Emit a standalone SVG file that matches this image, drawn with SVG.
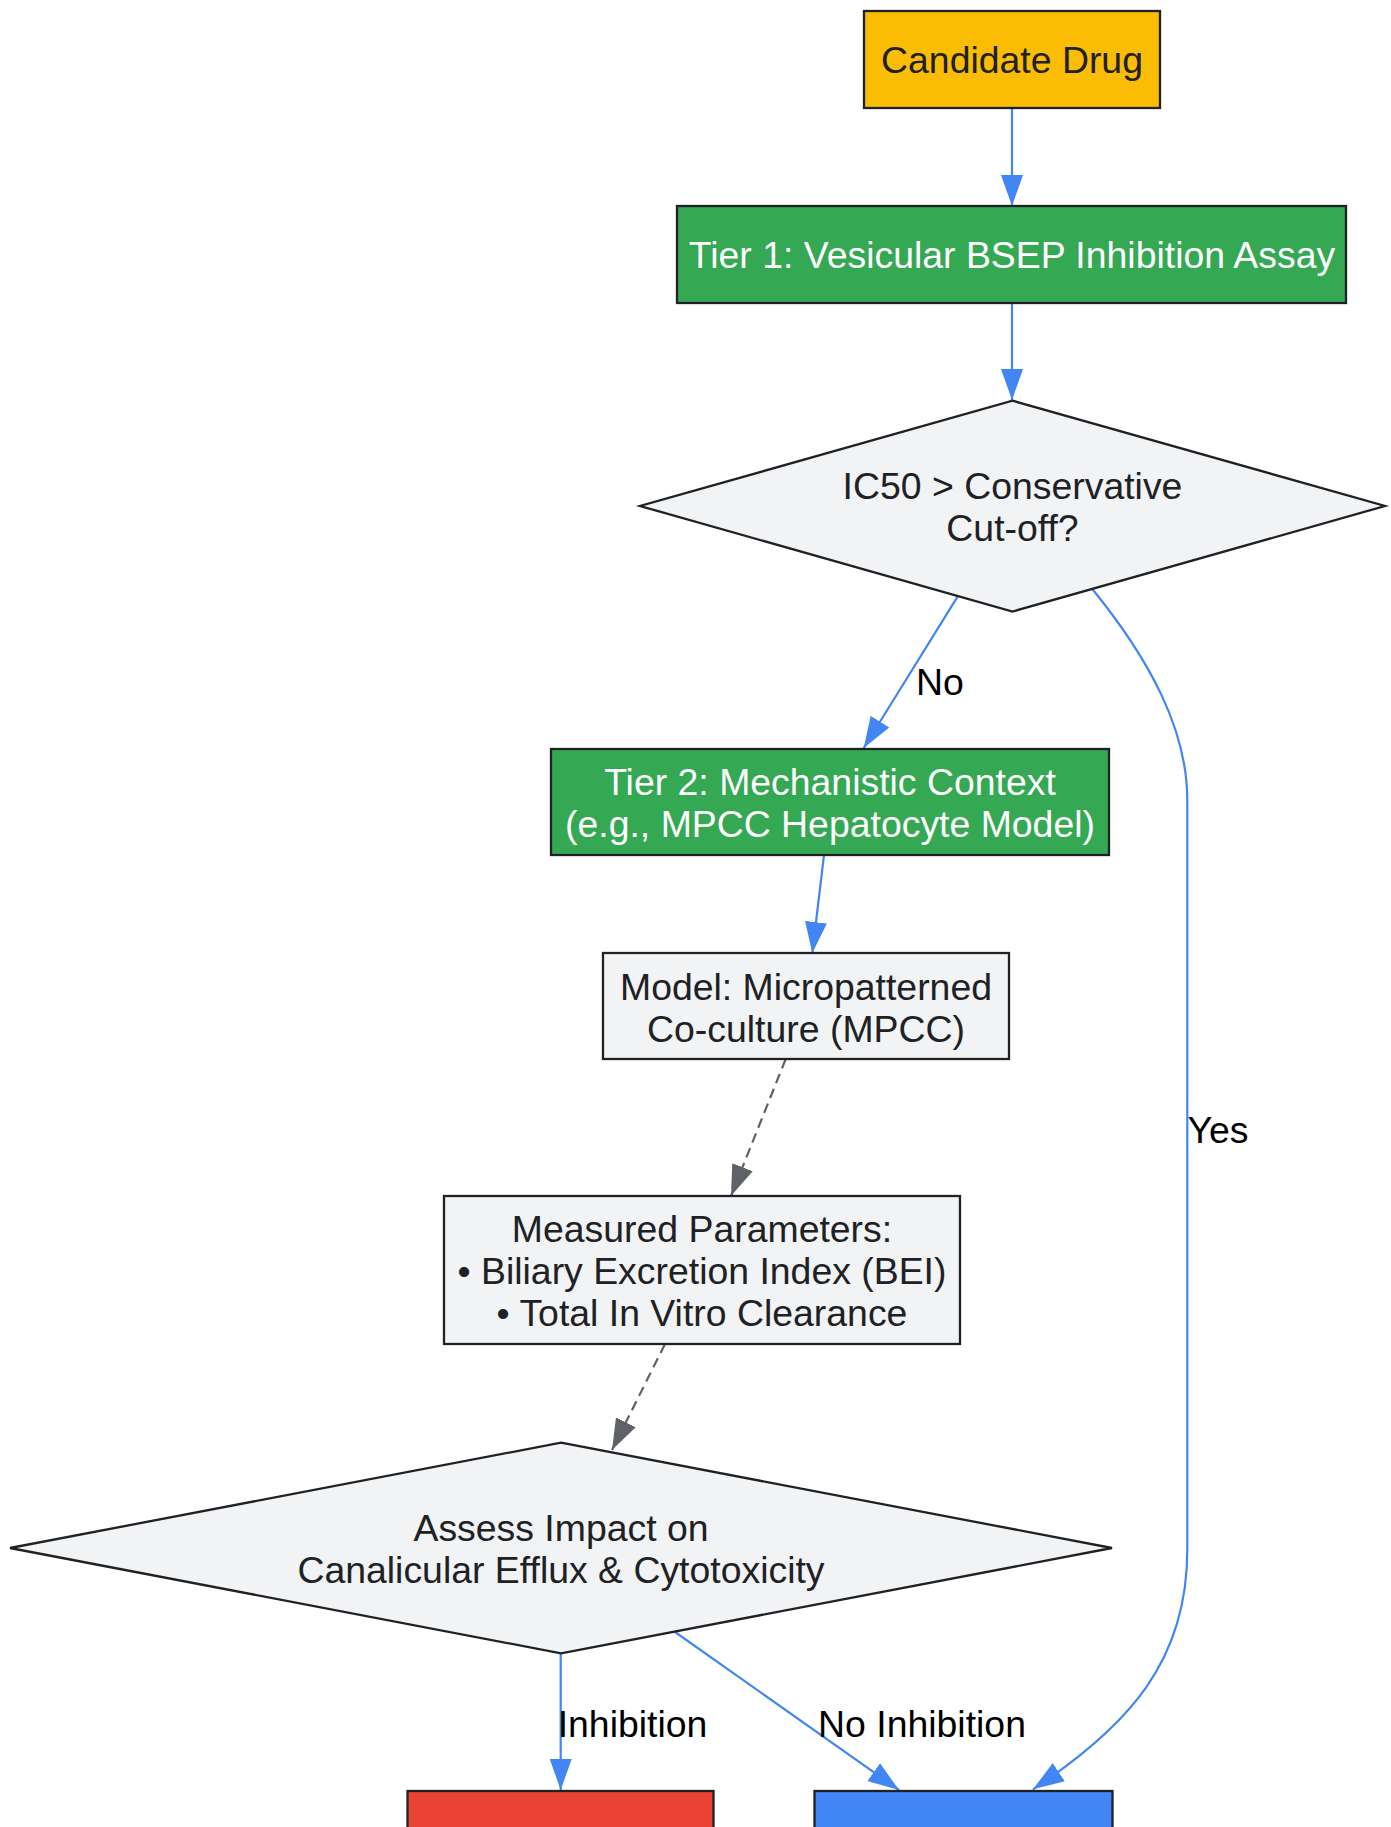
<svg xmlns="http://www.w3.org/2000/svg" width="1391" height="1827" viewBox="0 0 1391 1827">
<style>
  .node { stroke: #202124; stroke-width: 2.3; }
  .t { font-family: "Liberation Sans", Arial, sans-serif; font-size: 37.4px; text-anchor: middle; fill: #202124; }
  .w { fill: #ffffff; }
  .lbl { font-family: "Liberation Sans", Arial, sans-serif; font-size: 37.4px; text-anchor: middle; fill: #000000; }
  .e { fill: none; stroke: #4285F4; stroke-width: 2.2; }
  .d { fill: none; stroke: #5F6368; stroke-width: 2.2; stroke-dasharray: 10 6; }
</style>
<defs>
  <marker id="ab" markerUnits="userSpaceOnUse" markerWidth="31" markerHeight="22" refX="31" refY="11" orient="auto">
    <path d="M0,0 L31,11 L0,22 z" fill="#4285F4"/>
  </marker>
  <marker id="ag" markerUnits="userSpaceOnUse" markerWidth="31" markerHeight="22" refX="31" refY="11" orient="auto">
    <path d="M0,0 L31,11 L0,22 z" fill="#5F6368"/>
  </marker>
</defs>
<rect width="1391" height="1827" fill="#ffffff"/>

<g id="connectors">
  <path class="e" d="M1012,108 L1012,206" marker-end="url(#ab)"/>
  <path class="e" d="M1012,303 L1012,400" marker-end="url(#ab)"/>
  <path class="e" d="M957.6,596.7 L863.7,748" marker-end="url(#ab)"/>
  <path class="e" d="M1092.3,589 C1150,660 1187.3,730 1187.3,800 L1187.3,1550 C1187.3,1660 1130,1725 1033,1789.3" marker-end="url(#ab)"/>
  <path class="e" d="M824,855 L812.3,953" marker-end="url(#ab)"/>
  <path class="d" d="M785.7,1059 L731,1196" marker-end="url(#ag)"/>
  <path class="d" d="M665,1344 L612,1450" marker-end="url(#ag)"/>
  <path class="e" d="M560.7,1653 L560.7,1790" marker-end="url(#ab)"/>
  <path class="e" d="M675,1632 L899,1790" marker-end="url(#ab)"/>
  <text class="lbl" x="940" y="695">No</text>
  <text class="lbl" x="1218" y="1143">Yes</text>
  <text class="lbl" x="632.5" y="1737">Inhibition</text>
  <text class="lbl" x="922" y="1737">No Inhibition</text>
</g>

<g id="candidate">
  <rect class="node" x="864" y="11" width="296" height="97" fill="#FBBC04"/>
  <text class="t" x="1012" y="73">Candidate Drug</text>
</g>

<g id="tier1">
  <rect class="node" x="677" y="206" width="669" height="97" fill="#34A853"/>
  <text class="t w" x="1012" y="268">Tier 1: Vesicular BSEP Inhibition Assay</text>
</g>

<g id="decision1">
  <polygon class="node" points="1012.5,400.7 1385,506 1012.5,611.5 640,506" fill="#F1F3F4"/>
  <text class="t" x="1012.5" y="499">IC50 &gt; Conservative</text>
  <text class="t" x="1012.5" y="541">Cut-off?</text>
</g>

<g id="tier2">
  <rect class="node" x="551" y="749" width="558" height="106" fill="#34A853"/>
  <text class="t w" x="830" y="795">Tier 2: Mechanistic Context</text>
  <text class="t w" x="830" y="837">(e.g., MPCC Hepatocyte Model)</text>
</g>

<g id="model">
  <rect class="node" x="603" y="953" width="406" height="106" fill="#F1F3F4"/>
  <text class="t" x="806" y="1000">Model: Micropatterned</text>
  <text class="t" x="806" y="1042">Co-culture (MPCC)</text>
</g>

<g id="measured">
  <rect class="node" x="444" y="1196" width="516" height="148" fill="#F1F3F4"/>
  <text class="t" x="702" y="1242">Measured Parameters:</text>
  <text class="t" x="702" y="1284">• Biliary Excretion Index (BEI)</text>
  <text class="t" x="702" y="1326">• Total In Vitro Clearance</text>
</g>

<g id="decision2">
  <polygon class="node" points="561,1442.7 1112,1548 561,1653.3 10,1548" fill="#F1F3F4"/>
  <text class="t" x="561" y="1541">Assess Impact on</text>
  <text class="t" x="561" y="1583">Canalicular Efflux &amp; Cytotoxicity</text>
</g>

<g id="inhibition-result">
  <rect class="node" x="407.5" y="1791" width="306" height="60" fill="#EA4335"/>
</g>

<g id="no-inhibition-result">
  <rect class="node" x="814.5" y="1791" width="298" height="60" fill="#4285F4"/>
</g>
</svg>
